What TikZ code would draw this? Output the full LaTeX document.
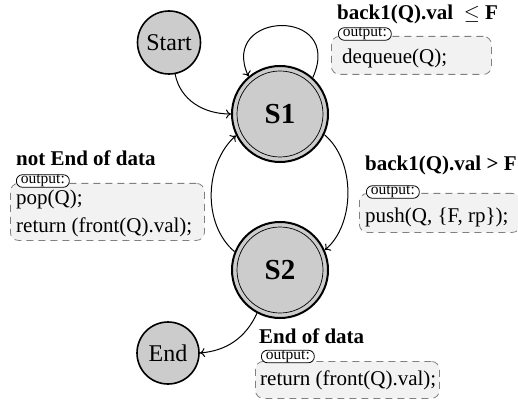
\documentclass[tikz,border=0pt]{standalone}
\usepackage{fontspec}
\setmainfont{Liberation Serif}
\usetikzlibrary{arrows.meta}
\begin{document}
\begin{tikzpicture}[x=1pt,y=1pt,
  statec/.style={circle, draw, line width=1.6pt, fill=gray!40, inner sep=0pt},
  conn/.style={line width=1pt, -{To[length=5pt,width=9pt]}},
  codebox/.style={draw=gray, dash pattern=on 7pt off 5pt, fill=gray!10, rounded corners=8pt, line width=0.8pt, inner sep=0pt, anchor=north west},
  tagbox/.style={draw, fill=white, rounded corners=6pt, line width=0.8pt, font=\fontsize{15.5}{16}\selectfont, inner xsep=4.5pt, inner ysep=0pt, text height=9pt, text depth=3.5pt, anchor=west},
  titletxt/.style={font=\fontsize{21}{24}\selectfont\bfseries, anchor=west, inner sep=0pt},
  codetxt/.style={font=\fontsize{21}{28}\selectfont, anchor=west, inner sep=0pt}
]
\useasboundingbox (0,0) rectangle (518,399);

% states
\node[statec, minimum size=63pt, font=\fontsize{24}{24}\selectfont] (start) at (169,356.5) {Start};
\node[statec, minimum size=96pt, line width=2pt, font=\fontsize{29}{29}\selectfont\bfseries] (s1) at (280,285) {S1};
\draw[line width=0.7pt] (s1.center) circle[radius=43pt];
\node[statec, minimum size=96pt, line width=2pt, font=\fontsize{29}{29}\selectfont\bfseries] (s2) at (280,129) {S2};
\draw[line width=0.7pt] (s2.center) circle[radius=43pt];
\node[statec, minimum size=62pt, font=\fontsize{24}{24}\selectfont] (end) at (168,46) {End};

% connectors
\draw[conn] (start.-79) to[out=-79,in=180] (s1.180);
\draw[conn] (s1.48) .. controls +(32,71) and +(-30,66) .. (s1.130);
\draw[conn] (s1.-25) .. controls +(32,-27) and +(30,25) .. (s2.24);
\draw[conn] (s2.158) .. controls +(-32,27) and +(-32,-29) .. (s1.206);
\draw[conn] (s2.-118) to[out=-115,in=5] (end.0);

% box 1: back1(Q).val <= F
\node[titletxt] (ti1) at (337,384.5) {back1(Q).val\ \ $\leq$ F};
\node[codebox, minimum width=160pt, minimum height=38pt] (b1) at (331,363) {};
\node[codetxt] (c1) at (342,341) {dequeue(Q);};
\node[tagbox] (t1) at (338,365) {output:};

% box 2: not End of data
\node[titletxt] (ti2) at (16,241) {not End of data};
\node[codebox, minimum width=194pt, minimum height=57pt] (b2) at (10,216) {};
\node[codetxt] (c2a) at (16,200) {pop(Q);};
\node[codetxt] (c2b) at (16,172) {return (front(Q).val);};
\node[tagbox] (t2) at (16,218) {output:};

% box 3: back1(Q).val > F
\node[titletxt] (ti3) at (365,234) {back1(Q).val > F};
\node[codebox, minimum width=161pt, minimum height=39pt] (b3) at (359,206) {};
\node[codetxt] (c3) at (365,182) {push(Q, \{F, rp\});};
\node[tagbox] (t3) at (366,207) {output:};

% box 4: End of data
\node[titletxt] (ti4) at (259,63) {End of data};
\node[codebox, minimum width=184pt, minimum height=37pt] (b4) at (255,38) {};
\node[codetxt] (c4) at (260,19) {return (front(Q).val);};
\node[tagbox] (t4) at (261,42.5) {output:};
\end{tikzpicture}
\end{document}
